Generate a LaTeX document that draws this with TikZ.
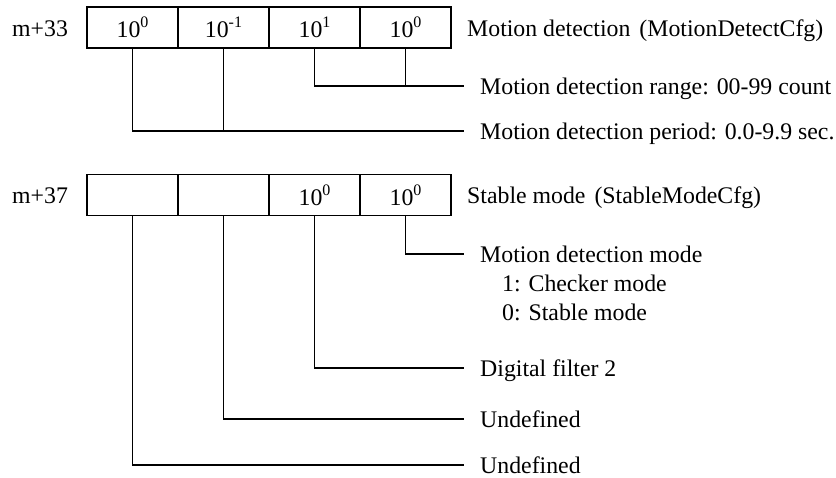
\documentclass[tikz,border=0pt]{standalone}
\usepackage{fontspec}
\setmainfont{Liberation Serif}
\newcommand{\sps}[1]{\raisebox{0.42em}{\fontsize{16}{18}\selectfont #1}}
\newcommand{\lpar}{\hspace{9pt}(}
\begin{document}
\begin{tikzpicture}[x=1pt,y=-1pt,
  every node/.style={font=\fontsize{23.8}{27}\selectfont},
  cell/.style={draw, line width=1.8pt, minimum width=91pt, minimum height=41pt, inner sep=0pt, anchor=center},
  lbl/.style={anchor=base west, inner sep=0pt},
  conn/.style={line width=1.6pt}]
\useasboundingbox (0,0) rectangle (836,477);
% row 1
\node[lbl] (h1) at (12,36) {m+33};
\node[cell] (a1) at (132.5,27.5) {10\sps{0}};
\node[cell] (a2) at (223.5,27.5) {10\sps{-1}};
\node[cell] (a3) at (314.5,27.5) {10\sps{1}};
\node[cell] (a4) at (405.5,27.5) {10\sps{0}};
\node[lbl] (t1) at (467,36) {Motion detection\lpar MotionDetectCfg)};
\coordinate (e1) at (464,86);
\coordinate (e2) at (464,131);
\node[lbl] (l1) at (480,94) {Motion detection range: 00-99 count};
\node[lbl] (l2) at (480,139) {Motion detection period: 0.0-9.9 sec.};
\draw[conn] (a3.south) |- (e1);
\draw[conn] (a4.south) -- (a4.south |- e1);
\draw[conn] (a1.south) |- (e2);
\draw[conn] (a2.south) -- (a2.south |- e2);
% row 2
\node[lbl] (h2) at (12,203) {m+37};
\node[cell] (b1) at (132.5,195) {};
\node[cell] (b2) at (223.5,195) {};
\node[cell] (b3) at (314.5,195) {10\sps{0}};
\node[cell] (b4) at (405.5,195) {10\sps{0}};
\node[lbl] (t2) at (467,203) {Stable mode\lpar StableModeCfg)};
\coordinate (f1) at (464,254);
\coordinate (f2) at (464,368);
\coordinate (f3) at (464,419);
\coordinate (f4) at (464,465);
\node[lbl] (m1) at (480,262) {Motion detection mode};
\node[lbl] (m2) at (502,291) {1: Checker mode};
\node[lbl] (m3) at (502,320) {0: Stable mode};
\node[lbl] (m4) at (480,376) {Digital filter 2};
\node[lbl] (m5) at (480,427) {Undefined};
\node[lbl] (m6) at (480,473) {Undefined};
\draw[conn] (b4.south) |- (f1);
\draw[conn] (b3.south) |- (f2);
\draw[conn] (b2.south) |- (f3);
\draw[conn] (b1.south) |- (f4);
\end{tikzpicture}
\end{document}
